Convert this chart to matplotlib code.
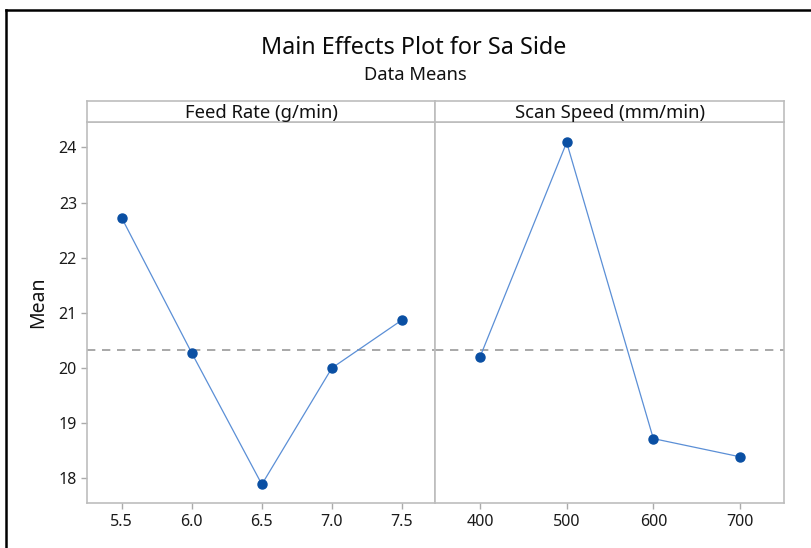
import matplotlib.pyplot as plt
from matplotlib.lines import Line2D

# Data
feed_rate = [5.5, 6.0, 6.5, 7.0, 7.5]
feed_means = [22.72, 20.27, 17.89, 20.00, 20.87]
scan_speed = [400, 500, 600, 700]
scan_means = [20.20, 24.09, 18.72, 18.39]
grand_mean = 20.33

panel_titles = ['Feed Rate (g/min)', 'Scan Speed (mm/min)']

plt.rcParams['font.family'] = ['Noto Sans', 'DejaVu Sans']

W, H = 811, 548
fig = plt.figure(figsize=(W / 100, H / 100), dpi=100)


def px_axes(x0, y0, x1, y1):
    # pixel box (top-left origin) to figure fraction
    return fig.add_axes([x0 / W, 1 - y1 / H, (x1 - x0) / W, (y1 - y0) / H])


edge = '#bdbdbd'
marker_c = '#0a4fa3'
line_c = '#5b8fd6'

ax1 = px_axes(87.3, 122, 435.3, 503.3)
ax2 = px_axes(435.3, 122, 784, 503.3)

for ax, x, y in [(ax1, feed_rate, feed_means), (ax2, scan_speed, scan_means)]:
    ax.axhline(grand_mean, color='#9a9a9a', lw=1.2, ls=(0, (5, 4)), zorder=1)
    ax.plot(x, y, color=line_c, lw=0.9, zorder=2)
    ax.plot(x, y, 'o', color=marker_c, ms=6.5, zorder=3)
    ax.set_ylim(17.547, 24.46)
    for s in ax.spines.values():
        s.set_color(edge)
        s.set_linewidth(1.2)
    ax.tick_params(colors='#aaaaaa', labelcolor='#1a1a1a', labelsize=11.5, length=4, width=1)

ax1.set_xlim(5.254, 7.738)
ax1.set_xticks(feed_rate)
ax1.set_xticklabels([f'{v:.1f}' for v in feed_rate])
ax1.set_yticks([18, 19, 20, 21, 22, 23, 24])
ax1.set_ylabel('Mean', fontsize=14, color='#111111')
ax1.yaxis.set_label_coords(-0.112, 0.528)

ax2.set_xlim(348.4, 750.8)
ax2.set_xticks(scan_speed)
ax2.tick_params(axis='y', left=False, labelleft=False)

# header strips
for (x0, x1), title in zip([(87.3, 435.3), (435.3, 784)], panel_titles):
    hx = px_axes(x0, 101, x1, 122)
    hx.set_xticks([])
    hx.set_yticks([])
    for s in hx.spines.values():
        s.set_color(edge)
        s.set_linewidth(1.2)
    hx.text(0.5, 0.45, title, ha='center', va='center', fontsize=13.3, color='#111111')

fig.text(414 / W, 1 - 47.5 / H, 'Main Effects Plot for Sa Side', ha='center', va='center',
         fontsize=16.8, color='#0a0a0a')
fig.text(415 / W, 1 - 74.5 / H, 'Data Means', ha='center', va='center', fontsize=13.2, color='#111111')

# outer frame (top and left)
fig.add_artist(Line2D([6 / W, 6 / W], [0, 1 - 10 / H], color='black', lw=1.8, transform=fig.transFigure))
fig.add_artist(Line2D([6 / W, 1], [1 - 10 / H, 1 - 10 / H], color='black', lw=1.8, transform=fig.transFigure))

fig.savefig('out.png', dpi=100)
